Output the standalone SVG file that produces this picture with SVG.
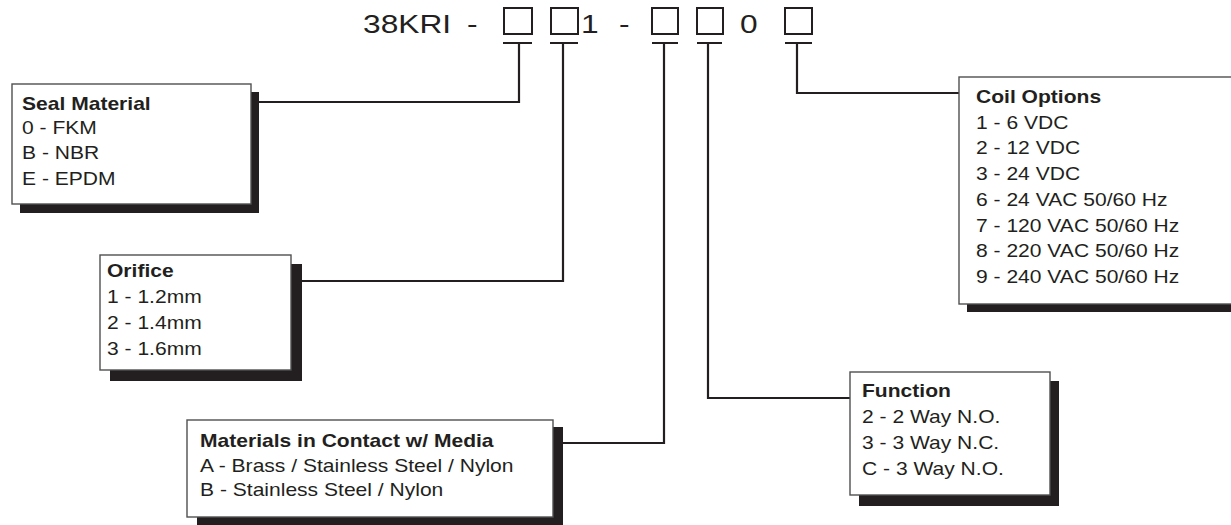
<svg xmlns="http://www.w3.org/2000/svg" width="1231" height="525" viewBox="0 0 1231 525">
<style>
text{font-family:"Liberation Sans",Arial,sans-serif;fill:#231f20;font-size:18px}
.t{font-weight:bold}
.big{font-size:26px}
.box{fill:#fff;stroke:#505050;stroke-width:1.4}
.sh{fill:#231f20}
.sq{fill:none;stroke:#231f20;stroke-width:2}
.ln{fill:none;stroke:#231f20;stroke-width:2.2}
</style>
<rect width="1231" height="525" fill="#fff"/>
<g id="code">
<g transform="translate(363,33) scale(1.22,1)"><text class="big" x="0" y="0">38KRI</text></g>
<g transform="translate(467,33) scale(1.22,1)"><text class="big" x="0" y="0">-</text></g>
<g transform="translate(581,33) scale(1.22,1)"><text class="big" x="0" y="0">1</text></g>
<g transform="translate(619,33) scale(1.22,1)"><text class="big" x="0" y="0">-</text></g>
<g transform="translate(740,33) scale(1.22,1)"><text class="big" x="0" y="0">0</text></g>
<rect class="sq" x="504" y="8" width="28" height="26"/>
<rect class="sq" x="551" y="8" width="27" height="26"/>
<rect class="sq" x="652" y="8" width="26" height="26"/>
<rect class="sq" x="697" y="8" width="26" height="26"/>
<rect class="sq" x="785" y="8" width="27" height="26"/>
</g>
<g id="connectors">
<path class="ln" d="M503,43H532M519,43V102H251"/>
<path class="ln" d="M550,43H578M563,43V281H291"/>
<path class="ln" d="M652,43H678M664,43V443H553"/>
<path class="ln" d="M697,43H722M708,43V398H850"/>
<path class="ln" d="M785,43H812M797,43V93H959"/>
</g>
<g id="seal">
<rect class="sh" x="20" y="92" width="239" height="121"/>
<rect class="box" x="12" y="84" width="239" height="120"/>
<g transform="translate(22,0) scale(1.17,1)">
<text class="t" y="110">Seal Material</text>
<text y="134">0 - FKM</text>
<text y="159">B - NBR</text>
<text y="185">E - EPDM</text>
</g>
</g>
<g id="orifice">
<rect class="sh" x="110" y="264" width="192" height="117"/>
<rect class="box" x="100" y="255" width="191" height="115"/>
<g transform="translate(107,0) scale(1.17,1)">
<text class="t" y="277">Orifice</text>
<text y="303">1 - 1.2mm</text>
<text y="329">2 - 1.4mm</text>
<text y="355">3 - 1.6mm</text>
</g>
</g>
<g id="materials">
<rect class="sh" x="197" y="427" width="366" height="105"/>
<rect class="box" x="187" y="420" width="366" height="97"/>
<g transform="translate(200,0) scale(1.17,1)">
<text class="t" y="447">Materials in Contact w/ Media</text>
<text y="472">A - Brass / Stainless Steel / Nylon</text>
<text y="496">B - Stainless Steel / Nylon</text>
</g>
</g>
<g id="function">
<rect class="sh" x="859" y="381" width="200" height="125"/>
<rect class="box" x="850" y="372" width="200" height="123"/>
<g transform="translate(862,0) scale(1.17,1)">
<text class="t" y="397">Function</text>
<text y="423">2 - 2 Way N.O.</text>
<text y="449">3 - 3 Way N.C.</text>
<text y="475">C - 3 Way N.O.</text>
</g>
</g>
<g id="coil">
<rect class="sh" x="967" y="86" width="280" height="226"/>
<rect class="box" x="959" y="77" width="290" height="227"/>
<g transform="translate(976,0) scale(1.17,1)">
<text class="t" y="103">Coil Options</text>
<text y="129">1 - 6 VDC</text>
<text y="154">2 - 12 VDC</text>
<text y="180">3 - 24 VDC</text>
<text y="206">6 - 24 VAC 50/60 Hz</text>
<text y="232">7 - 120 VAC 50/60 Hz</text>
<text y="257">8 - 220 VAC 50/60 Hz</text>
<text y="283">9 - 240 VAC 50/60 Hz</text>
</g>
</g>
</svg>
